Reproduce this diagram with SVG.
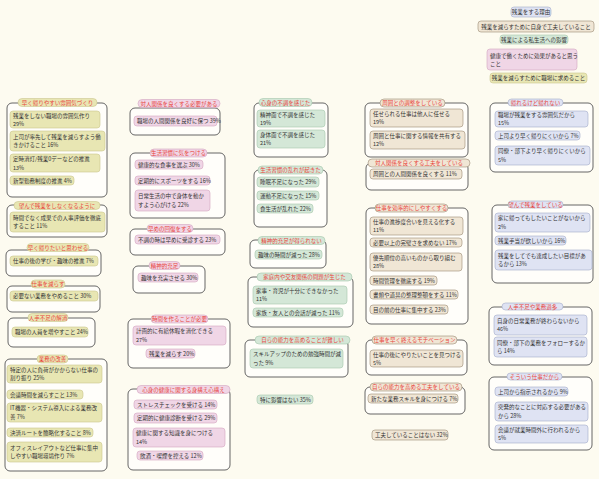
<svg xmlns="http://www.w3.org/2000/svg" width="599" height="479" viewBox="0 0 599 479">
<style>
text{font-family:"Noto Sans CJK JP","Noto Sans",sans-serif;font-size:5.5px;fill:#333;dominant-baseline:central}
.ti{fill:#e8453c;text-anchor:middle}
.c{text-anchor:middle}
.fr{fill:#fffefa;stroke:#555;stroke-width:0.9}
.y{fill:#e8e6b3;stroke:#cbc68e;stroke-width:0.6}
.p{fill:#f0d6e6;stroke:#d3a4c0;stroke-width:0.6}
.g{fill:#d4e7d7;stroke:#a5c6ab;stroke-width:0.6}
.n{fill:#f0e6d5;stroke:#9a8a74;stroke-width:0.6}
.b{fill:#dfe3f3;stroke:#a2abc9;stroke-width:0.6}
</style>
<rect width="599" height="479" fill="#fdfbf0"/>

<g id="legend">
<rect class="b" x="511" y="7" width="40" height="10" rx="3"/><text class="c" x="531" y="12">残業をする理由</text>
<rect class="n" x="478" y="21" width="116" height="11" rx="3"/><text class="c" x="536" y="26.5">残業を減らすために自身で工夫していること</text>
<rect class="g" x="500" y="35" width="68" height="9" rx="3"/><text class="c" x="534" y="39.5">残業による私生活への影響</text>
<rect class="p" x="487" y="49" width="90" height="21" rx="3"/><text x="490" y="55.5">健康で働くために効果があると思う</text><text x="490" y="63.5">こと</text>
<rect class="y" x="490" y="73" width="97" height="10" rx="3"/><text class="c" x="538.5" y="78">残業を減らすために職場に求めること</text>
</g>

<!-- Column 1 yellow -->
<g id="g1">
<rect class="fr" x="7" y="103" width="100" height="94" rx="5"/>
<rect class="y" x="18" y="98.5" width="79" height="8" rx="4"/><text class="ti" x="57.5" y="102.5">早く帰りやすい雰囲気づくり</text>
<rect class="y" x="10" y="111" width="90" height="17" rx="3"/><text x="13" y="115.5">残業をしない職場の雰囲気作り</text><text x="13" y="124">29%</text>
<rect class="y" x="10" y="131" width="95" height="20" rx="3"/><text x="13" y="136.7">上司が率先して残業を減らすよう働</text><text x="13" y="145.3">きかけること 16%</text>
<rect class="y" x="10" y="154" width="90" height="18" rx="3"/><text x="13" y="159">定時消灯/残業0デーなどの推進</text><text x="13" y="167.5">13%</text>
<rect class="y" x="10" y="176" width="64" height="9" rx="3"/><text x="13" y="180.5">新型勤務制度の推進 4%</text>
</g>
<g id="g2">
<rect class="fr" x="7" y="205" width="100" height="32" rx="5"/>
<rect class="y" x="14" y="201.5" width="86" height="8" rx="4"/><text class="ti" x="57" y="205.5">望んで残業をしなくなるように</text>
<rect class="y" x="10" y="212" width="95" height="20" rx="3"/><text x="13" y="217.7">時間でなく成果での人事評価を徹底</text><text x="13" y="226.3">すること 11%</text>
</g>
<g id="g3">
<rect class="fr" x="6" y="250" width="95" height="26" rx="5"/>
<rect class="y" x="27" y="243.5" width="62" height="8" rx="4"/><text class="ti" x="58" y="247.5">早く帰りたいと思わせる</text>
<rect class="y" x="10" y="256" width="88" height="10" rx="3"/><text x="13" y="261">仕事の後の学び・趣味の推進 7%</text>
</g>
<g id="g4">
<rect class="fr" x="7" y="286" width="93" height="26" rx="5"/>
<rect class="y" x="31" y="280" width="34" height="8" rx="4"/><text class="ti" x="48" y="284">仕事を減らす</text>
<rect class="y" x="10" y="291" width="88" height="10" rx="3"/><text x="13" y="296">必要ない業務をやめること 30%</text>
</g>
<g id="g5">
<rect class="fr" x="8" y="318" width="87" height="29" rx="5"/>
<rect class="y" x="28" y="313.5" width="40" height="8" rx="4"/><text class="ti" x="48" y="317.5">人手不足の解消</text>
<rect class="y" x="12" y="327" width="76" height="10" rx="3"/><text x="15" y="332">職場の人員を増やすこと 24%</text>
</g>
<g id="g6">
<rect class="fr" x="5" y="359" width="102" height="112" rx="5"/>
<rect class="y" x="37" y="355" width="31" height="8" rx="4"/><text class="ti" x="52.5" y="359">業務の改善</text>
<rect class="y" x="7" y="365" width="95" height="18" rx="3"/><text x="10" y="369.7">特定の人に負荷がかからない仕事の</text><text x="10" y="378.3">割り振り 25%</text>
<rect class="y" x="7" y="390" width="76" height="9" rx="3"/><text x="10" y="394.5">会議時間を減らすこと 13%</text>
<rect class="y" x="7" y="403" width="95" height="19" rx="3"/><text x="10" y="408.2">IT機器・システム導入による業務改</text><text x="10" y="416.8">善 7%</text>
<rect class="y" x="7" y="428" width="86" height="9" rx="3"/><text x="10" y="432.5">決済ルートを簡略化すること 8%</text>
<rect class="y" x="7" y="442" width="95" height="20" rx="3"/><text x="10" y="447.7">オフィスレイアウトなど仕事に集中</text><text x="10" y="456.3">しやすい職場環境作り 7%</text>
</g>

<!-- Column 2 pink -->
<g id="g7">
<rect class="fr" x="130" y="108" width="90" height="27" rx="5"/>
<rect class="p" x="138" y="99.5" width="82" height="8" rx="4"/><text class="ti" x="179" y="103.5">対人関係を良くする必要がある</text>
<rect class="p" x="134" y="116" width="83" height="10" rx="3"/><text x="137" y="121">職場の人間関係を良好に保つ 39%</text>
</g>
<g id="g8">
<rect class="fr" x="130" y="153" width="95" height="65" rx="5"/>
<rect class="p" x="150" y="149" width="57" height="8" rx="4"/><text class="ti" x="178.5" y="153">生活習慣に気をつける</text>
<rect class="p" x="135" y="160" width="68" height="9" rx="3"/><text x="138" y="164.5">健康的な食事を選ぶ 30%</text>
<rect class="p" x="135" y="176" width="75" height="9" rx="3"/><text x="138" y="180.5">定期的にスポーツをする 16%</text>
<rect class="p" x="135" y="190" width="75" height="21" rx="3"/><text x="138" y="196.2">日常生活の中で身体を動か</text><text x="138" y="204.8">すよう心がける 22%</text>
</g>
<g id="g9">
<rect class="fr" x="130" y="229" width="95" height="26" rx="5"/>
<rect class="p" x="147" y="224.5" width="46" height="8" rx="4"/><text class="ti" x="170" y="228.5">早めの回復をする</text>
<rect class="p" x="135" y="235" width="85" height="9" rx="3"/><text x="138" y="239.5">不調の時は早めに受診する 23%</text>
</g>
<g id="g10">
<rect class="fr" x="133" y="266" width="72" height="27" rx="5"/>
<rect class="p" x="149" y="261.5" width="31" height="8" rx="4"/><text class="ti" x="164.5" y="265.5">精神的充足</text>
<rect class="p" x="138" y="273" width="60" height="9" rx="3"/><text x="141" y="277.5">趣味を充実させる 30%</text>
</g>
<g id="g11">
<rect class="fr" x="128" y="319" width="102" height="49" rx="5"/>
<rect class="p" x="151" y="315" width="57" height="8" rx="4"/><text class="ti" x="179.5" y="319">時間を作ることが必要</text>
<rect class="p" x="133" y="326" width="93" height="19" rx="3"/><text x="136" y="331.2">計画的に有給休暇を消化できる</text><text x="136" y="339.8">27%</text>
<rect class="p" x="146" y="349" width="49" height="9" rx="3"/><text x="149" y="353.5">残業を減らす 20%</text>
</g>
<g id="g12">
<rect class="fr" x="128" y="389" width="102" height="81" rx="5"/>
<rect class="p" x="137" y="385.5" width="93" height="8" rx="4"/><text class="ti" x="183.5" y="389.5">心身の健康に関する身構え心構え</text>
<rect class="p" x="134" y="400" width="83" height="9" rx="3"/><text x="137" y="404.5">ストレスチェックを受ける 14%</text>
<rect class="p" x="134" y="413" width="83" height="10" rx="3"/><text x="137" y="418">定期的に健康診断を受ける 29%</text>
<rect class="p" x="133" y="428" width="92" height="19" rx="3"/><text x="136" y="433.2">健康に関する知識を身につける</text><text x="136" y="441.8">14%</text>
<rect class="p" x="137" y="451" width="66" height="9" rx="3"/><text x="140" y="455.5">飲酒・喫煙を控える 12%</text>
</g>

<!-- Column 3 green -->
<g id="g13">
<rect class="fr" x="254" y="103" width="74" height="54" rx="5"/>
<rect class="g" x="259" y="98.5" width="53" height="8" rx="4"/><text class="ti" x="285.5" y="102.5">心身の不調を感じた</text>
<rect class="g" x="257" y="110" width="68" height="17" rx="3"/><text x="260" y="114.5">精神面で不調を感じた</text><text x="260" y="123">19%</text>
<rect class="g" x="257" y="130" width="68" height="18" rx="3"/><text x="260" y="134.7">身体面で不調を感じた</text><text x="260" y="143.3">21%</text>
</g>
<g id="g14">
<rect class="fr" x="254" y="170" width="73" height="57" rx="5"/>
<rect class="g" x="258" y="166" width="65" height="8" rx="4"/><text class="ti" x="290.5" y="170">生活習慣の乱れが起きた</text>
<rect class="g" x="257" y="177" width="62" height="10" rx="3"/><text x="260" y="182">睡眠不足になった 29%</text>
<rect class="g" x="257" y="191" width="62" height="9" rx="3"/><text x="260" y="195.5">運動不足になった 15%</text>
<rect class="g" x="257" y="204" width="56" height="9" rx="3"/><text x="260" y="208.5">食生活が乱れた 22%</text>
</g>
<g id="g15">
<rect class="fr" x="250" y="240" width="76" height="28" rx="5"/>
<rect class="g" x="258" y="236.5" width="67" height="8" rx="4"/><text class="ti" x="291.5" y="240.5">精神的充足が得られない</text>
<rect class="g" x="255" y="250" width="67" height="9" rx="3"/><text x="258" y="254.5">趣味の時間が減った 28%</text>
</g>
<g id="g16">
<rect class="fr" x="248" y="277" width="105" height="50" rx="5"/>
<rect class="g" x="257" y="273" width="95" height="8" rx="4"/><text class="ti" x="304.5" y="277">家庭内や交友関係の問題が生じた</text>
<rect class="g" x="253" y="286" width="94" height="18" rx="3"/><text x="256" y="290.7">家事・育児が十分にできなかった</text><text x="256" y="299.3">11%</text>
<rect class="g" x="253" y="308" width="90" height="9" rx="3"/><text x="256" y="312.5">家族・友人との会話が減った 11%</text>
</g>
<g id="g17">
<rect class="fr" x="245" y="340" width="103" height="37" rx="5"/>
<rect class="g" x="255" y="336" width="95" height="8" rx="4"/><text class="ti" x="302.5" y="340">自らの能力を高めることが難しい</text>
<rect class="g" x="250" y="349" width="93" height="19" rx="3"/><text x="253" y="354.2">スキルアップのための勉強時間が減</text><text x="253" y="362.8">った 9%</text>
</g>
<g id="g18">
<rect class="g" x="257" y="395" width="56" height="9" rx="3"/><text x="260" y="399.5">特に影響はない 35%</text>
</g>

<!-- Column 4 tan -->
<g id="g19">
<rect class="fr" x="365" y="103" width="103" height="54" rx="5"/>
<rect class="n" x="380" y="99" width="65" height="8" rx="4"/><text class="ti" x="412.5" y="103">周囲との調整をしている</text>
<rect class="n" x="370" y="109" width="93" height="18" rx="3"/><text x="373" y="113.7">任せられる仕事は他人に任せる</text><text x="373" y="122.3">19%</text>
<rect class="n" x="370" y="131" width="95" height="18" rx="3"/><text x="373" y="135.7">周囲と仕事に関する情報を共有する</text><text x="373" y="144.3">12%</text>
</g>
<g id="g20">
<rect class="fr" x="366" y="163" width="102" height="27" rx="5"/>
<rect class="n" x="368" y="159" width="102" height="8" rx="4"/><text class="ti" x="419" y="163">対人関係を良くする工夫をしている</text>
<rect class="n" x="370" y="169" width="92" height="10" rx="3"/><text x="373" y="174">周囲との人間関係を良くする 11%</text>
</g>
<g id="g21">
<rect class="fr" x="366" y="208" width="102" height="116" rx="5"/>
<rect class="n" x="375" y="204" width="73" height="8" rx="4"/><text class="ti" x="411.5" y="208">仕事を効率的にしやすくする</text>
<rect class="n" x="370" y="217" width="93" height="18" rx="3"/><text x="373" y="221.7">仕事の進捗度合いを見える化する</text><text x="373" y="230.3">11%</text>
<rect class="n" x="370" y="238" width="92" height="9" rx="3"/><text x="373" y="242.5">必要以上の完璧さを求めない 17%</text>
<rect class="n" x="370" y="253" width="92" height="18" rx="3"/><text x="373" y="257.7">優先順位の高いものから取り組む</text><text x="373" y="266.3">28%</text>
<rect class="n" x="370" y="276" width="67" height="9" rx="3"/><text x="373" y="280.5">時間管理を徹底する 19%</text>
<rect class="n" x="370" y="290" width="88" height="9" rx="3"/><text x="373" y="294.5">書類や道具の整理整頓をする 11%</text>
<rect class="n" x="370" y="305" width="78" height="9" rx="3"/><text x="373" y="309.5">目の前の仕事に集中する 23%</text>
</g>
<g id="g22">
<rect class="fr" x="366" y="340" width="101" height="35" rx="5"/>
<rect class="n" x="372" y="336" width="85" height="8" rx="4"/><text class="ti" x="414.5" y="340">仕事を早く終えるモチベーション</text>
<rect class="n" x="370" y="350" width="93" height="17" rx="3"/><text x="373" y="354.5">仕事の後にやりたいことを見つける</text><text x="373" y="363">5%</text>
</g>
<g id="g23">
<rect class="fr" x="365" y="387" width="100" height="27" rx="5"/>
<rect class="n" x="370" y="383" width="92" height="8" rx="4"/><text class="ti" x="416" y="387">自らの能力を高める工夫をしている</text>
<rect class="n" x="368" y="394" width="90" height="9" rx="3"/><text x="371" y="398.5">新たな業務スキルを身につける 7%</text>
</g>
<g id="g24">
<rect class="n" x="372" y="430" width="76" height="10" rx="3"/><text x="375" y="435">工夫していることはない 32%</text>
</g>

<!-- Column 5 blue -->
<g id="g25">
<rect class="fr" x="490" y="103" width="103" height="69" rx="5"/>
<rect class="b" x="508" y="99" width="55" height="7" rx="3.5"/><text class="ti" x="535.5" y="102.5">帰れるけど帰れない</text>
<rect class="b" x="495" y="111" width="93" height="16" rx="3"/><text x="498" y="115">職場が残業をする雰囲気だから</text><text x="498" y="123">15%</text>
<rect class="b" x="495" y="131" width="85" height="9" rx="3"/><text x="498" y="135.5">上司より早く帰りにくいから 7%</text>
<rect class="b" x="495" y="146" width="95" height="19" rx="3"/><text x="498" y="151.2">同僚・部下より早く帰りにくいから</text><text x="498" y="159.8">5%</text>
</g>
<g id="g26">
<rect class="fr" x="492" y="205" width="101" height="78" rx="5"/>
<rect class="b" x="508" y="201" width="55" height="7" rx="3.5"/><text class="ti" x="535.5" y="204.5">望んで残業をしている</text>
<rect class="b" x="495" y="213" width="95" height="19" rx="3"/><text x="498" y="218.2">家に帰ってもしたいことがないから</text><text x="498" y="226.8">2%</text>
<rect class="b" x="495" y="236" width="71" height="9" rx="3"/><text x="498" y="240.5">残業手当が欲しいから 16%</text>
<rect class="b" x="495" y="250" width="97" height="20" rx="3"/><text x="498" y="255.7">残業をしてでも達成したい目標があ</text><text x="498" y="264.3">るから 13%</text>
</g>
<g id="g27">
<rect class="fr" x="489" y="307" width="103" height="58" rx="5"/>
<rect class="b" x="502" y="303" width="61" height="7" rx="3.5"/><text class="ti" x="532.5" y="306.5">人手不足や業務過多</text>
<rect class="b" x="494" y="315" width="93" height="20" rx="3"/><text x="497" y="320.7">自身の日常業務が終わらないから</text><text x="497" y="329.3">46%</text>
<rect class="b" x="494" y="337" width="93" height="20" rx="3"/><text x="497" y="342.7">同僚・部下の業務をフォローするか</text><text x="497" y="351.3">ら 14%</text>
</g>
<g id="g28">
<rect class="fr" x="489" y="377" width="103" height="73" rx="5"/>
<rect class="b" x="507" y="373" width="55" height="7" rx="3.5"/><text class="ti" x="534.5" y="376.5">そういう仕事だから</text>
<rect class="b" x="495" y="387" width="73" height="9" rx="3"/><text x="498" y="391.5">上司から指示されるから 9%</text>
<rect class="b" x="495" y="402" width="93" height="19" rx="3"/><text x="498" y="407.2">突発的なことに対応する必要がある</text><text x="498" y="415.8">から 28%</text>
<rect class="b" x="495" y="425" width="93" height="18" rx="3"/><text x="498" y="429.7">会議が就業時間外に行われるから</text><text x="498" y="438.3">5%</text>
</g>
<g id="connectors"></g>
</svg>
